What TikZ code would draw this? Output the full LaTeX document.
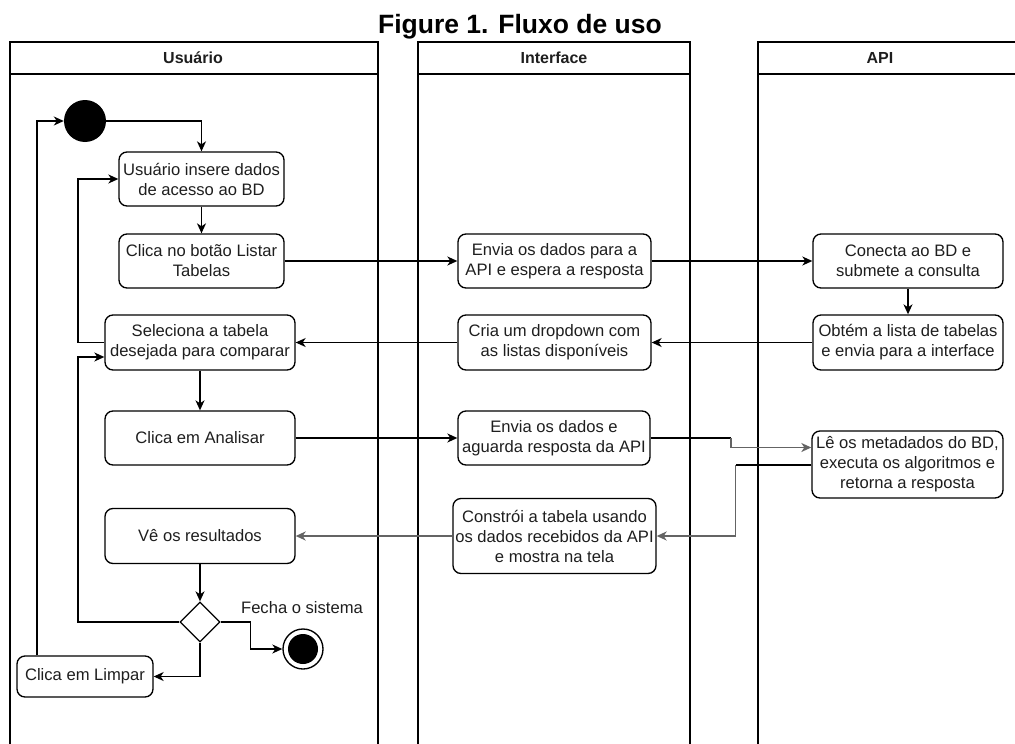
\documentclass[tikz,border=0pt]{standalone}
\usepackage{fontspec}
\setmainfont{Liberation Sans}
\usetikzlibrary{shapes.geometric,arrows.meta,calc}
\definecolor{linegray}{RGB}{100,100,100}
\definecolor{txt}{RGB}{30,30,30}
\begin{document}
\begin{tikzpicture}[x=1pt,y=-1pt,
  box/.style={draw, rounded corners=8pt, align=center, inner sep=0pt, text=txt,
    font=\fontsize{16.6}{20}\selectfont, line width=1.35pt},
  lane/.style={line width=1.35pt},
  lanehead/.style={font=\bfseries\fontsize{16}{19}\selectfont, text=txt},
  flow/.style={line width=1.35pt, -{Stealth[length=10pt,width=9pt,inset=3pt]}},
  flowgray/.style={flow, draw=linegray, line width=1.9pt},
  plain/.style={line width=1.35pt}]
\useasboundingbox (0,0) rectangle (1015,744);

% title
\node[font=\bfseries\fontsize{26.5}{30}\selectfont] (title) at (520,27) {Figure 1. Fluxo de uso};

% swimlanes
\draw[lane] (10,744) -- (10,42) -- (378,42) -- (378,744);
\draw[lane] (10,74) -- (378,74);
\draw[lane] (418,744) -- (418,42) -- (690,42) -- (690,744);
\draw[lane] (418,74) -- (690,74);
\draw[lane] (758,744) -- (758,42) -- (1015,42);
\draw[lane] (758,74) -- (1015,74);
\node[lanehead] (h1) at (193,58) {Usuário};
\node[lanehead] (h2) at (554,58) {Interface};
\node[lanehead] (h3) at (880,58) {API};

% user lane
\node[circle, fill=black, minimum size=42pt, inner sep=0pt] (start) at (85,121) {};
\node[box, minimum width=165pt, minimum height=54pt] (b1) at (201.5,179) {Usuário insere dados\\de acesso ao BD};
\node[box, minimum width=165pt, minimum height=54pt] (b2) at (201.5,261) {Clica no botão Listar\\Tabelas};
\node[box, minimum width=190pt, minimum height=55pt] (b3) at (200,342.5) {Seleciona a tabela\\desejada para comparar};
\node[box, minimum width=190pt, minimum height=54pt] (b4) at (200,438) {Clica em Analisar};
\node[box, minimum width=190pt, minimum height=55pt] (b5) at (200,536) {Vê os resultados};
\node[diamond, draw, line width=1.35pt, minimum width=40pt, minimum height=40pt, inner sep=0pt] (dec) at (200,622) {};
\node[circle, draw, line width=1.35pt, minimum size=40pt, inner sep=0pt] (end) at (303,649) {};
\node[circle, fill=black, minimum size=30pt, inner sep=0pt] (endin) at (end.center) {};
\node[box, minimum width=136pt, minimum height=41pt] (limpar) at (85,676.5) {Clica em Limpar};
\node[font=\fontsize{16.6}{20}\selectfont, text=txt] (fecha) at (302,608) {Fecha o sistema};

% interface lane
\node[box, minimum width=193pt, minimum height=54pt] (i1) at (554.5,261) {Envia os dados para a\\API e espera a resposta};
\node[box, minimum width=193pt, minimum height=55pt] (i2) at (554.5,342.5) {Cria um dropdown com\\as listas disponíveis};
\node[box, minimum width=192pt, minimum height=54pt] (i3) at (554,438) {Envia os dados e\\aguarda resposta da API};
\node[box, minimum width=203pt, minimum height=75pt] (i4) at (554.5,536) {Constrói a tabela usando\\os dados recebidos da API\\e mostra na tela};

% API lane
\node[box, minimum width=190pt, minimum height=54pt] (a1) at (908,261) {Conecta ao BD e\\submete a consulta};
\node[box, minimum width=190pt, minimum height=55pt] (a2) at (908,342.5) {Obtém a lista de tabelas\\e envia para a interface};
\node[box, minimum width=191pt, minimum height=67pt] (a3) at (907.5,464.5) {Lê os metadados do BD,\\executa os algoritmos e\\retorna a resposta};

% bend coordinates
\coordinate (k1) at (731,438);
\coordinate (k2) at (731,447.5);
\coordinate (k3) at (735.5,465);
\coordinate (k4) at (735.5,536);

% connectors
\draw[flow] (start.east) -| (b1.north);
\draw[flow] (b1) -- (b2);
\draw[flow] (b2) -- (i1);
\draw[flow] (i1) -- (a1);
\draw[flow] (a1) -- (a2);
\draw[flow] (a2) -- (i2);
\draw[flow] (i2) -- (b3);
\draw[flow] (b3) -- (b4);
\draw[flow] (b4) -- (i3);
\draw[plain] (i3.east) -- (k1);
\draw[flowgray] (k1) -- (k2) -- (a3.west |- k2);
\draw[plain] (a3.west |- k3) -- (k3);
\draw[flowgray] (k3) -- (k4) -- (i4.east);
\draw[flowgray] (i4) -- (b5);
\draw[flow] (b5) -- (dec);
\draw[flow] (dec.east) -- ++(30,0) |- (end.west);
\draw[flow] (dec.south) |- (limpar.east);
\draw[flow] (dec.west) -- (78,622) -- (78,357) -- (b3.west |- 0,357);
\draw[flow] (b3.west) -- (78,342.5) -- (78,179) -- (b1.west);
\draw[flow] (limpar.north -| 37,0) -- (37,121) -- (start.west);
\end{tikzpicture}
\end{document}
